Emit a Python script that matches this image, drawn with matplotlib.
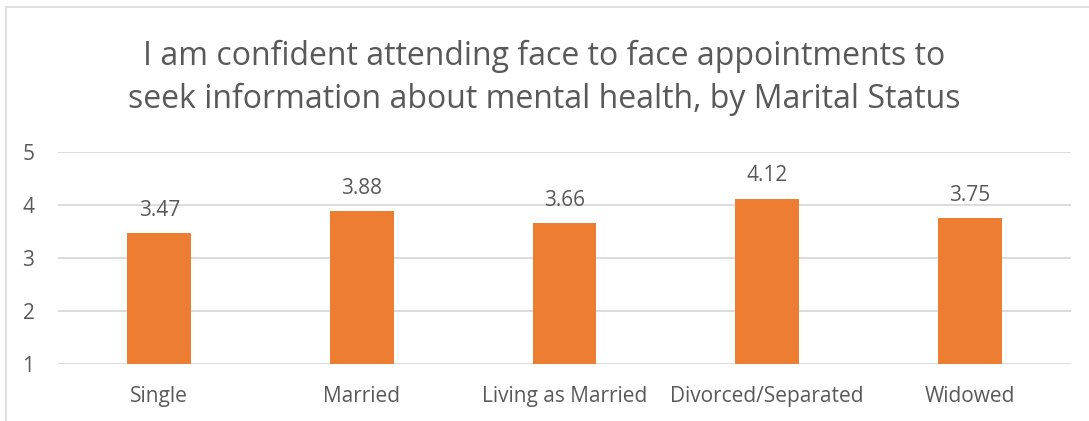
import matplotlib
matplotlib.use("Agg")
import matplotlib.pyplot as plt
from matplotlib.patches import Rectangle

categories = ["Single", "Married", "Living as Married", "Divorced/Separated", "Widowed"]
values = [3.47, 3.88, 3.66, 4.12, 3.75]
yticks = [1, 2, 3, 4, 5]
title = "I am confident attending face to face appointments to\nseek information about mental health, by Marital Status"

W, H = 1089, 421
fig = plt.figure(figsize=(W / 100, H / 100), dpi=100)
plt.rcParams['font.family'] = ['Open Sans', 'DejaVu Sans']
txt = "#595959"

# chart border
fig.patches.append(Rectangle((6 / W, -0.1), 1.2, (H - 7) / H + 0.1, transform=fig.transFigure,
                             fill=False, edgecolor="#D9D9D9", linewidth=1.2))

x0, x1 = 58, 1071
y_top, y_bot = 152, 364
ax = fig.add_axes([x0 / W, 1 - y_bot / H, (x1 - x0) / W, (y_bot - y_top) / H])
ax.set_facecolor("none")
xs = range(len(categories))
bars = ax.bar(xs, values, width=0.315, color="#ED7D31", zorder=3, bottom=0)
ax.set_ylim(1, 5)
ax.set_xlim(-0.5, len(categories) - 0.5)
ax.set_yticks(yticks)
ax.set_yticklabels([str(t) for t in yticks], fontsize=15, color=txt)
ax.set_xticks(list(xs))
ax.set_xticklabels(categories, fontsize=15, color=txt)
ax.tick_params(axis="both", length=0)
ax.tick_params(axis="y", pad=17)
ax.tick_params(axis="x", pad=16)
ax.grid(axis="y", color="#D9D9D9", linewidth=1.3, zorder=0)
for s in ax.spines.values():
    s.set_visible(False)
for i, v in enumerate(values):
    ax.annotate(f"{v:.2f}", (i, v), xytext=(0, 9), textcoords="offset points",
                ha="center", va="bottom", fontsize=15, color=txt)

fig.text(0.5, 1 - 78 / H, title, ha="center", va="center", fontsize=23, color=txt,
         linespacing=1.4)

fig.savefig("out.png", dpi=100)
